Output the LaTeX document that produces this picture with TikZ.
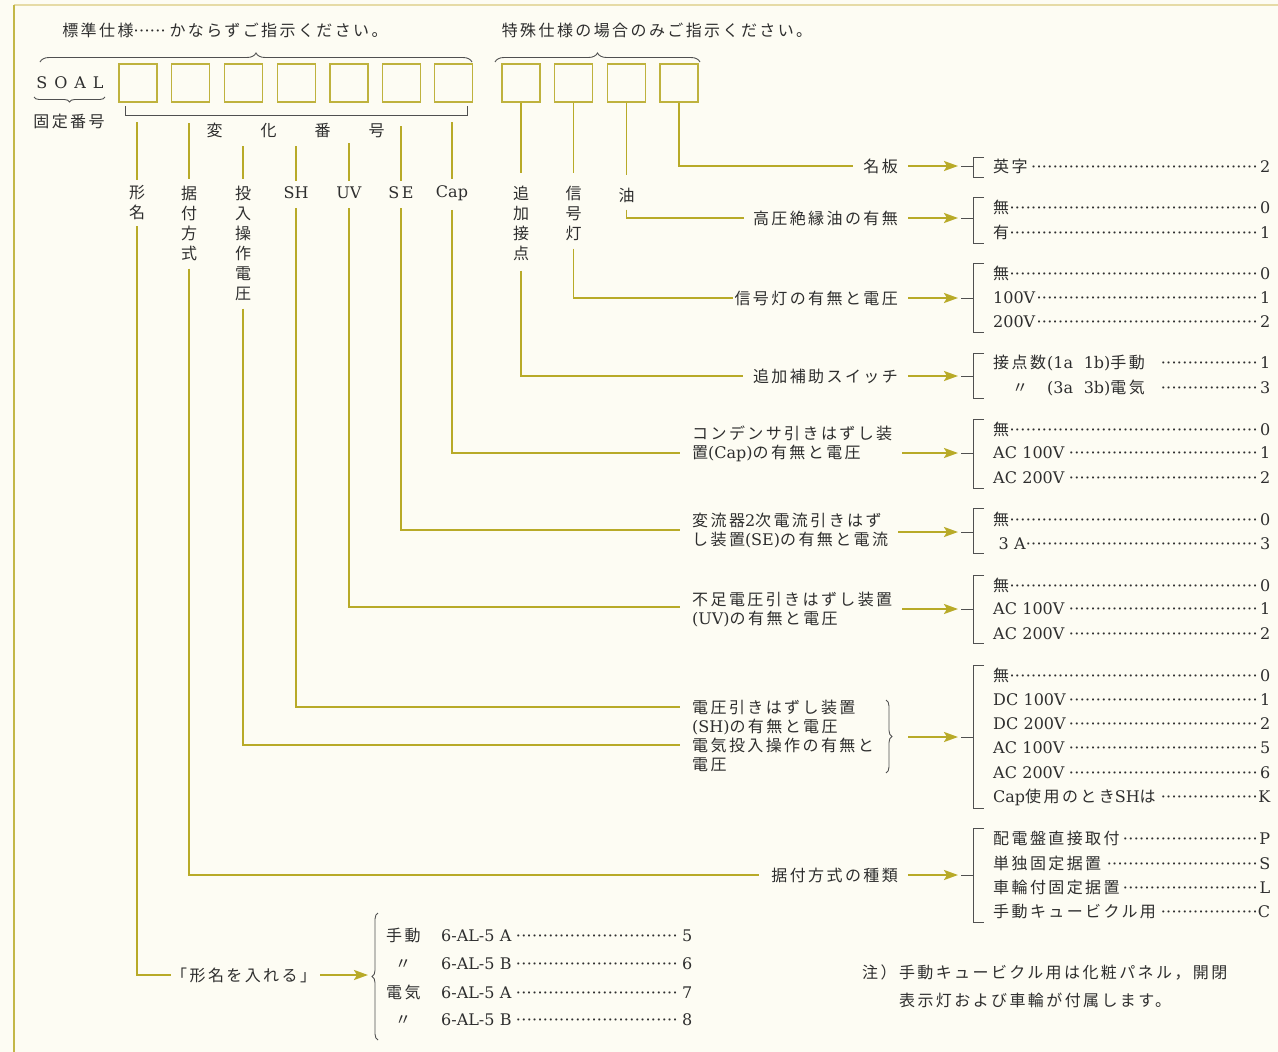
\documentclass[tikz,border=0pt]{standalone}
\usepackage{fontspec}
\setmainfont{DejaVu Serif}
\newfontfamily\jp[LetterSpace=15]{Noto Sans CJK JP}
\usetikzlibrary{arrows.meta,decorations.pathreplacing,calc}
\definecolor{soalbg}{HTML}{FDFCF3}
\definecolor{soalolive}{HTML}{B8AA28}
\definecolor{soalink}{HTML}{2E2E2E}
\definecolor{soalgray}{HTML}{505050}
\definecolor{soalframe}{HTML}{E6DBA6}
\newcommand\leaderfill{\leaders\hbox to 5.4pt{\hss\textperiodcentered\hss}\hfill}
\tikzset{
  jt/.style={font=\jp\fontsize{16}{19}\selectfont,text=soalink,inner sep=0pt},
  lt/.style={font=\fontsize{16}{19}\selectfont,text=soalink,inner sep=0pt},
  vt/.style={jt,align=center,font=\jp\fontsize{16}{20}\selectfont},
  slot/.style={draw=soalolive!90,line width=1.3pt,minimum size=38pt,inner sep=0pt},
  feed/.style={draw=soalolive,line width=1.4pt},
  ar/.style={-{Stealth[length=14pt,width=10pt,inset=3pt]},draw=soalolive,fill=soalolive,line width=2.2pt},
  brk/.style={draw=soalgray,line width=0.9pt},
  brc/.style={brk,decorate,decoration={brace,amplitude=9pt}},
  opt/.style={font=\fontsize{16}{19}\selectfont,text=soalink,anchor=west,text width=277pt,inner sep=0pt},
}
\begin{document}
\begin{tikzpicture}[x=1pt,y=-1pt]
  \useasboundingbox (0,0) rectangle (1278,1052);
  \fill[soalbg] (0,0) rectangle (1278,1052);
  \draw[soalframe,line width=1.2pt] (14,5) -- (1278,5);
  \draw[soalolive!85,line width=1.5pt] (14,5) -- (14,1052);

  % header
  \node[jt] (stdNote) at (225,30) {標準仕様{\rmfamily\makebox[36pt]{\leaderfill}}かならずご指示ください。};
  \node[jt] (spcNote) at (657,30) {特殊仕様の場合のみご指示ください。};
  \draw[brc] (40,62) -- (472,62);
  \draw[brc] (495,62) -- (700,62);

  \node[lt] (soal) at (70,83) {S\hspace{7pt}O\hspace{7pt}A\hspace{7pt}L};
  \draw[brc,decoration={brace,amplitude=5pt}] (105,97) -- (34,97);
  \node[jt] (fixno) at (69,121) {固定番号};

  % code slots
  \foreach \x [count=\i] in {138,190.5,243.5,296.5,349,401.5,453.5}
    \node[slot] (b\i) at (\x,83) {};
  \foreach \x [count=\i] in {521,573.5,626.5,679}
    \node[slot] (s\i) at (\x,83) {};

  \draw[brk] (125,106) -- (125,115) -- (467,115) -- (467,106);
  \node[jt] (varno) at (295.5,130) {変\hspace{38pt}化\hspace{38pt}番\hspace{38pt}号};

  % column titles
  \node[vt] (tKei) at (137,203) {形\\名};
  \node[vt] (tSue) at (189,223) {据\\付\\方\\式};
  \node[vt] (tTou) at (243,243) {投\\入\\操\\作\\電\\圧};
  \node[lt] (tSH) at (296,193) {SH};
  \node[lt] (tUV) at (349,193) {UV};
  \node[lt] (tSE) at (401,193) {S\,E};
  \node[lt] (tCap) at (452,193) {Cap};
  \node[vt] (tAdd) at (521,223) {追\\加\\接\\点};
  \node[vt] (tSig) at (573.5,213) {信\\号\\灯};
  \node[vt] (tOil) at (626.5,195) {油};

  \foreach \n/\x/\y in {Kei/137/122,Sue/189/123,Tou/243/146,SH/296/146,UV/349/143,SE/401/126,Cap/452/122}{
    \coordinate (top\n) at (\x,\y);
    \draw[feed,shorten >=6pt] (top\n) -- (t\n.north);
  }
  \foreach \i/\n in {1/Add,2/Sig,3/Oil}
    \draw[feed,shorten >=12pt] (s\i.south) -- (t\n.north);

  % item labels
  \node[jt,anchor=east] (nMei) at (898,166) {名板};
  \node[jt,anchor=east] (nOil) at (898,218) {高圧絶縁油の有無};
  \node[jt,anchor=east] (nSig) at (898,298) {信号灯の有無と電圧};
  \node[jt,anchor=east] (nAdd) at (898,376) {追加補助スイッチ};
  \node[jt,anchor=west,align=left] (nCap) at (692,444) {コンデンサ引きはずし装\\置{\rmfamily (Cap)}の有無と電圧};
  \node[jt,anchor=west,align=left] (nSE) at (692,530.5) {変流器{\rmfamily 2}次電流引きはず\\し装置{\rmfamily (SE)}の有無と電流};
  \node[jt,anchor=west,align=left] (nUV) at (692,609.5) {不足電圧引きはずし装置\\{\rmfamily (UV)}の有無と電圧};
  \node[jt,anchor=west,align=left] (nSH) at (692,735.5) {電圧引きはずし装置\\{\rmfamily (SH)}の有無と電圧\\電気投入操作の有無と\\電圧};
  \node[jt,anchor=east] (nSue) at (898,875) {据付方式の種類};
  \node[jt,anchor=west] (nKei) at (171,975) {「形名を入れる」};

  \coordinate (cCap) at (680,453);
  \coordinate (cSE) at (680,530);
  \coordinate (cUV) at (680,607);
  \coordinate (cSH) at (680,707);
  \coordinate (cTou) at (680,745);

  \draw[feed,shorten >=10pt] (s4.south) |- (nMei.west);
  \draw[feed,shorten <=7pt,shorten >=9pt] (tOil.south) |- (nOil.west);
  \draw[feed,shorten <=8pt,shorten >=1pt] (tSig.south) |- (nSig.west);
  \draw[feed,shorten <=10pt,shorten >=10pt] (tAdd.south) |- (nAdd.west);
  \draw[feed,shorten <=9pt] (tCap.south) |- (cCap);
  \draw[feed,shorten <=9pt] (tSE.south) |- (cSE);
  \draw[feed,shorten <=9pt] (tUV.south) |- (cUV);
  \draw[feed,shorten <=9pt] (tSH.south) |- (cSH);
  \draw[feed,shorten <=8pt] (tTou.south) |- (cTou);
  \draw[feed,shorten <=8pt,shorten >=12pt] (tSue.south) |- (nSue.west);
  \draw[feed,shorten <=6pt] (tKei.south) |- (nKei.west);

  % option brackets
  \foreach \g/\t/\b/\m in {1/157/177/166,2/197/243/218,3/263/332/298,4/353/398/376,5/419/488/453,6/508/553/532,7/575/643/609,8/665/808/737,9/828/922/875}{
    \draw[brk] (984,\t) -- (973,\t) -- (973,\b) -- (984,\b);
    \coordinate (g\g) at (973,\m);
    \draw[brk] (g\g) -- ++(-12,0);
  }
  \draw[brc,decoration={brace,amplitude=6pt}] (886,700) -- (886,773);
  \coordinate (braceSH) at (898,737);

  \draw[ar,shorten <=10pt,shorten >=15pt] (nMei.east) -- (g1);
  \draw[ar,shorten <=10pt,shorten >=15pt] (nOil.east) -- (g2);
  \draw[ar,shorten <=10pt,shorten >=15pt] (nSig.east) -- (g3);
  \draw[ar,shorten <=10pt,shorten >=15pt] (nAdd.east) -- (g4);
  \draw[ar,shorten <=10pt,shorten >=15pt] (nCap.east |- g5) -- (g5);
  \draw[ar,shorten <=10pt,shorten >=15pt] (nSE.east |- g6) -- (g6);
  \draw[ar,shorten <=10pt,shorten >=15pt] (nUV.east |- g7) -- (g7);
  \draw[ar,shorten <=10pt,shorten >=15pt] (braceSH) -- (g8);
  \draw[ar,shorten <=10pt,shorten >=15pt] (nSue.east) -- (g9);

  % option values
  \foreach \y/\t [count=\i] in {
    166/{{\jp 英字}\leaderfill 2},
    207/{{\jp 無}\leaderfill 0},
    232/{{\jp 有}\leaderfill 1},
    273/{{\jp 無}\leaderfill 0},
    298/{100V\leaderfill 1},
    322/{200V\leaderfill 2},
    363/{\makebox[54pt][l]{\jp 接点数}(1a\ \ 1b){\jp 手動}\hspace{14pt}\leaderfill 1},
    388/{\makebox[54pt][c]{\jp 〃}(3a\ \ 3b){\jp 電気}\hspace{14pt}\leaderfill 3},
    429/{{\jp 無}\leaderfill 0},
    453/{AC 100V\leaderfill 1},
    478/{AC 200V\leaderfill 2},
    519/{{\jp 無}\leaderfill 0},
    544/{\ 3 A\leaderfill 3},
    585/{{\jp 無}\leaderfill 0},
    609/{AC 100V\leaderfill 1},
    634/{AC 200V\leaderfill 2},
    675/{{\jp 無}\leaderfill 0},
    700/{DC 100V\leaderfill 1},
    724/{DC 200V\leaderfill 2},
    748/{AC 100V\leaderfill 5},
    773/{AC 200V\leaderfill 6},
    797/{Cap{\jp 使用のとき}SH{\jp は}\leaderfill K},
    838/{{\jp 配電盤直接取付}\leaderfill P},
    863/{{\jp 単独固定据置}\leaderfill S},
    887/{{\jp 車輪付固定据置}\leaderfill L},
    911/{{\jp 手動キュービクル用}\leaderfill C}}
    \node[opt] (o\i) at (993,\y) {\t};

  % model list
  \coordinate (kTip) at (371,975);
  \draw[brc,decoration={brace,amplitude=6pt}] (378,1040) -- (378,913);
  \draw[ar,shorten <=4pt,shorten >=3pt] (nKei.east) -- (kTip);
  \foreach \y/\t [count=\i] in {
    935/{\makebox[55pt][l]{\jp 手動}6-AL-5 A\leaderfill 5},
    964/{\makebox[34pt][c]{\jp 〃}\hspace{21pt}6-AL-5 B\leaderfill 6},
    992/{\makebox[55pt][l]{\jp 電気}6-AL-5 A\leaderfill 7},
    1020/{\makebox[34pt][c]{\jp 〃}\hspace{21pt}6-AL-5 B\leaderfill 8}}
    \node[opt,text width=306pt] (m\i) at (386,\y) {\t};

  \node[jt,anchor=west,align=left,font=\jp\fontsize{16}{28}\selectfont] (note) at (862,986)
    {注）手動キュービクル用は化粧パネル，開閉\\\hspace*{37pt}表示灯および車輪が付属します。};
\end{tikzpicture}
\end{document}
